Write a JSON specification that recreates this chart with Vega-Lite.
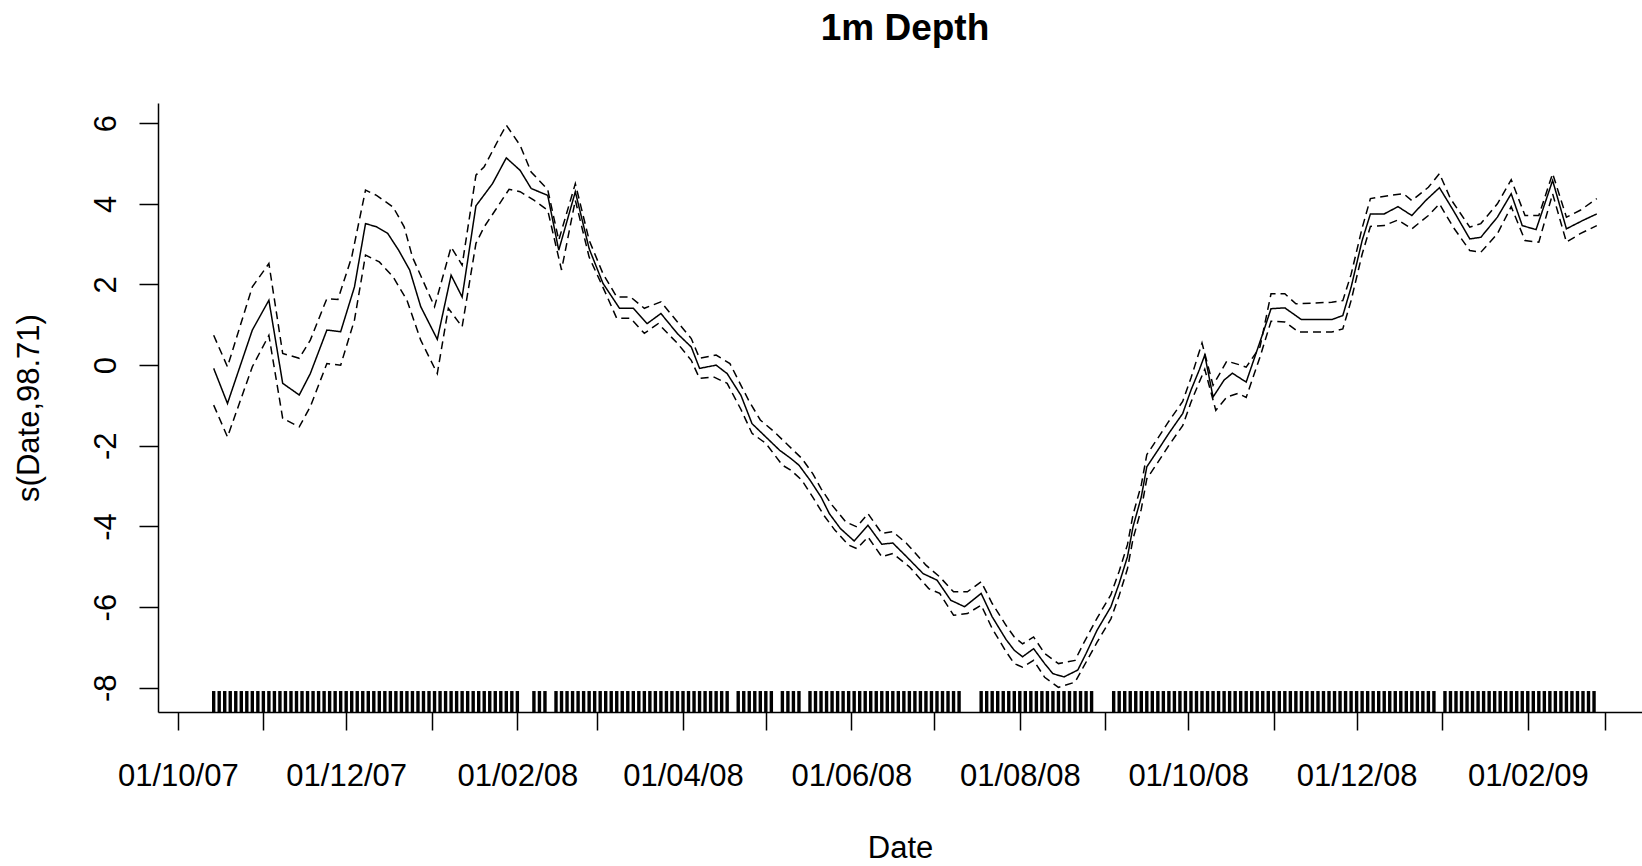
{
  "$schema": "https://vega.github.io/schema/vega-lite/v6.json",
  "autosize": "none",
  "padding": {"left": 158, "top": 103, "right": 0, "bottom": 154},
  "width": 1484,
  "height": 609,
  "background": "white",
  "view": {"stroke": null},
  "config": {"font": "Liberation Sans"},
  "title": {"text": "1m Depth", "fontSize": 37, "font": "Liberation Sans", "fontWeight": "bold", "color": "black", "anchor": "middle", "baseline": "alphabetic", "offset": 26, "dx": 5},
  "datasets": {
    "curve": [
      {"d": "2007-10-14", "v": -0.08, "s": "fit"}, {"d": "2007-10-19", "v": -0.95, "s": "fit"}, {"d": "2007-10-28", "v": 0.87, "s": "fit"}, {"d": "2007-11-03", "v": 1.61, "s": "fit"}, {"d": "2007-11-08", "v": -0.45, "s": "fit"}, {"d": "2007-11-14", "v": -0.74, "s": "fit"}, {"d": "2007-11-18", "v": -0.21, "s": "fit"}, {"d": "2007-11-24", "v": 0.87, "s": "fit"}, {"d": "2007-11-29", "v": 0.83, "s": "fit"}, {"d": "2007-12-04", "v": 1.94, "s": "fit"}, {"d": "2007-12-08", "v": 3.51, "s": "fit"}, {"d": "2007-12-12", "v": 3.43, "s": "fit"}, {"d": "2007-12-16", "v": 3.27, "s": "fit"}, {"d": "2007-12-20", "v": 2.85, "s": "fit"}, {"d": "2007-12-24", "v": 2.36, "s": "fit"}, {"d": "2007-12-28", "v": 1.45, "s": "fit"}, {"d": "2008-01-03", "v": 0.64, "s": "fit"}, {"d": "2008-01-08", "v": 2.23, "s": "fit"}, {"d": "2008-01-12", "v": 1.69, "s": "fit"}, {"d": "2008-01-17", "v": 3.95, "s": "fit"}, {"d": "2008-01-23", "v": 4.5, "s": "fit"}, {"d": "2008-01-28", "v": 5.14, "s": "fit"}, {"d": "2008-02-02", "v": 4.83, "s": "fit"}, {"d": "2008-02-06", "v": 4.38, "s": "fit"}, {"d": "2008-02-12", "v": 4.21, "s": "fit"}, {"d": "2008-02-16", "v": 2.85, "s": "fit"}, {"d": "2008-02-22", "v": 4.3, "s": "fit"}, {"d": "2008-02-27", "v": 2.89, "s": "fit"}, {"d": "2008-03-03", "v": 2.03, "s": "fit"}, {"d": "2008-03-09", "v": 1.41, "s": "fit"}, {"d": "2008-03-14", "v": 1.41, "s": "fit"}, {"d": "2008-03-19", "v": 1.03, "s": "fit"}, {"d": "2008-03-24", "v": 1.28, "s": "fit"}, {"d": "2008-03-30", "v": 0.78, "s": "fit"}, {"d": "2008-04-04", "v": 0.45, "s": "fit"}, {"d": "2008-04-07", "v": -0.08, "s": "fit"}, {"d": "2008-04-13", "v": 0.0, "s": "fit"}, {"d": "2008-04-17", "v": -0.21, "s": "fit"}, {"d": "2008-04-22", "v": -0.75, "s": "fit"}, {"d": "2008-04-26", "v": -1.45, "s": "fit"}, {"d": "2008-05-01", "v": -1.78, "s": "fit"}, {"d": "2008-05-06", "v": -2.11, "s": "fit"}, {"d": "2008-05-10", "v": -2.31, "s": "fit"}, {"d": "2008-05-13", "v": -2.48, "s": "fit"}, {"d": "2008-05-17", "v": -2.85, "s": "fit"}, {"d": "2008-05-21", "v": -3.27, "s": "fit"}, {"d": "2008-05-24", "v": -3.68, "s": "fit"}, {"d": "2008-05-28", "v": -4.05, "s": "fit"}, {"d": "2008-06-02", "v": -4.36, "s": "fit"}, {"d": "2008-06-07", "v": -3.97, "s": "fit"}, {"d": "2008-06-12", "v": -4.44, "s": "fit"}, {"d": "2008-06-16", "v": -4.41, "s": "fit"}, {"d": "2008-06-21", "v": -4.75, "s": "fit"}, {"d": "2008-06-27", "v": -5.17, "s": "fit"}, {"d": "2008-07-02", "v": -5.33, "s": "fit"}, {"d": "2008-07-07", "v": -5.83, "s": "fit"}, {"d": "2008-07-12", "v": -5.99, "s": "fit"}, {"d": "2008-07-18", "v": -5.66, "s": "fit"}, {"d": "2008-07-22", "v": -6.24, "s": "fit"}, {"d": "2008-07-27", "v": -6.8, "s": "fit"}, {"d": "2008-07-30", "v": -7.07, "s": "fit"}, {"d": "2008-08-02", "v": -7.23, "s": "fit"}, {"d": "2008-08-06", "v": -7.03, "s": "fit"}, {"d": "2008-08-10", "v": -7.4, "s": "fit"}, {"d": "2008-08-13", "v": -7.65, "s": "fit"}, {"d": "2008-08-17", "v": -7.73, "s": "fit"}, {"d": "2008-08-22", "v": -7.56, "s": "fit"}, {"d": "2008-08-25", "v": -7.15, "s": "fit"}, {"d": "2008-08-29", "v": -6.57, "s": "fit"}, {"d": "2008-09-03", "v": -5.99, "s": "fit"}, {"d": "2008-09-06", "v": -5.41, "s": "fit"}, {"d": "2008-09-09", "v": -4.75, "s": "fit"}, {"d": "2008-09-11", "v": -4.01, "s": "fit"}, {"d": "2008-09-14", "v": -3.27, "s": "fit"}, {"d": "2008-09-16", "v": -2.52, "s": "fit"}, {"d": "2008-09-20", "v": -2.11, "s": "fit"}, {"d": "2008-09-24", "v": -1.69, "s": "fit"}, {"d": "2008-09-29", "v": -1.2, "s": "fit"}, {"d": "2008-10-02", "v": -0.62, "s": "fit"}, {"d": "2008-10-05", "v": -0.12, "s": "fit"}, {"d": "2008-10-07", "v": 0.25, "s": "fit"}, {"d": "2008-10-10", "v": -0.79, "s": "fit"}, {"d": "2008-10-14", "v": -0.37, "s": "fit"}, {"d": "2008-10-17", "v": -0.2, "s": "fit"}, {"d": "2008-10-22", "v": -0.42, "s": "fit"}, {"d": "2008-10-28", "v": 0.78, "s": "fit"}, {"d": "2008-10-31", "v": 1.4, "s": "fit"}, {"d": "2008-11-05", "v": 1.42, "s": "fit"}, {"d": "2008-11-11", "v": 1.13, "s": "fit"}, {"d": "2008-11-22", "v": 1.13, "s": "fit"}, {"d": "2008-11-26", "v": 1.23, "s": "fit"}, {"d": "2008-11-29", "v": 1.93, "s": "fit"}, {"d": "2008-12-03", "v": 3.09, "s": "fit"}, {"d": "2008-12-06", "v": 3.75, "s": "fit"}, {"d": "2008-12-11", "v": 3.75, "s": "fit"}, {"d": "2008-12-16", "v": 3.93, "s": "fit"}, {"d": "2008-12-21", "v": 3.71, "s": "fit"}, {"d": "2008-12-26", "v": 4.08, "s": "fit"}, {"d": "2008-12-31", "v": 4.4, "s": "fit"}, {"d": "2009-01-05", "v": 3.84, "s": "fit"}, {"d": "2009-01-11", "v": 3.13, "s": "fit"}, {"d": "2009-01-15", "v": 3.17, "s": "fit"}, {"d": "2009-01-21", "v": 3.67, "s": "fit"}, {"d": "2009-01-26", "v": 4.25, "s": "fit"}, {"d": "2009-01-30", "v": 3.46, "s": "fit"}, {"d": "2009-02-04", "v": 3.36, "s": "fit"}, {"d": "2009-02-10", "v": 4.58, "s": "fit"}, {"d": "2009-02-15", "v": 3.38, "s": "fit"}, {"d": "2009-02-21", "v": 3.59, "s": "fit"}, {"d": "2009-02-26", "v": 3.75, "s": "fit"},

      {"d": "2007-10-14", "v": 0.74, "s": "upper"}, {"d": "2007-10-19", "v": -0.04, "s": "upper"}, {"d": "2007-10-28", "v": 1.94, "s": "upper"}, {"d": "2007-11-03", "v": 2.52, "s": "upper"}, {"d": "2007-11-08", "v": 0.29, "s": "upper"}, {"d": "2007-11-14", "v": 0.17, "s": "upper"}, {"d": "2007-11-18", "v": 0.62, "s": "upper"}, {"d": "2007-11-24", "v": 1.65, "s": "upper"}, {"d": "2007-11-28", "v": 1.63, "s": "upper"}, {"d": "2007-12-03", "v": 2.68, "s": "upper"}, {"d": "2007-12-08", "v": 4.34, "s": "upper"}, {"d": "2007-12-12", "v": 4.21, "s": "upper"}, {"d": "2007-12-18", "v": 3.92, "s": "upper"}, {"d": "2007-12-22", "v": 3.43, "s": "upper"}, {"d": "2007-12-25", "v": 2.68, "s": "upper"}, {"d": "2008-01-02", "v": 1.45, "s": "upper"}, {"d": "2008-01-08", "v": 2.93, "s": "upper"}, {"d": "2008-01-12", "v": 2.48, "s": "upper"}, {"d": "2008-01-17", "v": 4.71, "s": "upper"}, {"d": "2008-01-20", "v": 4.92, "s": "upper"}, {"d": "2008-01-26", "v": 5.7, "s": "upper"}, {"d": "2008-01-28", "v": 5.95, "s": "upper"}, {"d": "2008-02-02", "v": 5.45, "s": "upper"}, {"d": "2008-02-06", "v": 4.79, "s": "upper"}, {"d": "2008-02-12", "v": 4.35, "s": "upper"}, {"d": "2008-02-16", "v": 3.1, "s": "upper"}, {"d": "2008-02-22", "v": 4.5, "s": "upper"}, {"d": "2008-02-27", "v": 3.1, "s": "upper"}, {"d": "2008-03-03", "v": 2.27, "s": "upper"}, {"d": "2008-03-08", "v": 1.69, "s": "upper"}, {"d": "2008-03-13", "v": 1.69, "s": "upper"}, {"d": "2008-03-18", "v": 1.41, "s": "upper"}, {"d": "2008-03-24", "v": 1.57, "s": "upper"}, {"d": "2008-03-30", "v": 1.07, "s": "upper"}, {"d": "2008-04-04", "v": 0.66, "s": "upper"}, {"d": "2008-04-07", "v": 0.17, "s": "upper"}, {"d": "2008-04-13", "v": 0.25, "s": "upper"}, {"d": "2008-04-18", "v": 0.04, "s": "upper"}, {"d": "2008-04-22", "v": -0.5, "s": "upper"}, {"d": "2008-04-25", "v": -0.9, "s": "upper"}, {"d": "2008-04-29", "v": -1.36, "s": "upper"}, {"d": "2008-05-04", "v": -1.65, "s": "upper"}, {"d": "2008-05-09", "v": -1.98, "s": "upper"}, {"d": "2008-05-14", "v": -2.31, "s": "upper"}, {"d": "2008-05-18", "v": -2.69, "s": "upper"}, {"d": "2008-05-21", "v": -3.06, "s": "upper"}, {"d": "2008-05-25", "v": -3.47, "s": "upper"}, {"d": "2008-05-30", "v": -3.89, "s": "upper"}, {"d": "2008-06-03", "v": -4.01, "s": "upper"}, {"d": "2008-06-07", "v": -3.68, "s": "upper"}, {"d": "2008-06-12", "v": -4.17, "s": "upper"}, {"d": "2008-06-16", "v": -4.13, "s": "upper"}, {"d": "2008-06-21", "v": -4.42, "s": "upper"}, {"d": "2008-06-28", "v": -4.96, "s": "upper"}, {"d": "2008-07-03", "v": -5.25, "s": "upper"}, {"d": "2008-07-08", "v": -5.62, "s": "upper"}, {"d": "2008-07-13", "v": -5.62, "s": "upper"}, {"d": "2008-07-18", "v": -5.37, "s": "upper"}, {"d": "2008-07-22", "v": -5.91, "s": "upper"}, {"d": "2008-07-27", "v": -6.45, "s": "upper"}, {"d": "2008-07-30", "v": -6.74, "s": "upper"}, {"d": "2008-08-02", "v": -6.91, "s": "upper"}, {"d": "2008-08-06", "v": -6.74, "s": "upper"}, {"d": "2008-08-10", "v": -7.15, "s": "upper"}, {"d": "2008-08-15", "v": -7.4, "s": "upper"}, {"d": "2008-08-21", "v": -7.32, "s": "upper"}, {"d": "2008-08-24", "v": -6.91, "s": "upper"}, {"d": "2008-08-29", "v": -6.27, "s": "upper"}, {"d": "2008-09-03", "v": -5.69, "s": "upper"}, {"d": "2008-09-06", "v": -5.11, "s": "upper"}, {"d": "2008-09-09", "v": -4.45, "s": "upper"}, {"d": "2008-09-11", "v": -3.71, "s": "upper"}, {"d": "2008-09-14", "v": -2.97, "s": "upper"}, {"d": "2008-09-16", "v": -2.22, "s": "upper"}, {"d": "2008-09-20", "v": -1.81, "s": "upper"}, {"d": "2008-09-24", "v": -1.39, "s": "upper"}, {"d": "2008-09-29", "v": -0.9, "s": "upper"}, {"d": "2008-10-02", "v": -0.32, "s": "upper"}, {"d": "2008-10-06", "v": 0.55, "s": "upper"}, {"d": "2008-10-10", "v": -0.5, "s": "upper"}, {"d": "2008-10-15", "v": 0.1, "s": "upper"}, {"d": "2008-10-20", "v": 0.0, "s": "upper"}, {"d": "2008-10-22", "v": -0.05, "s": "upper"}, {"d": "2008-10-27", "v": 0.45, "s": "upper"}, {"d": "2008-10-31", "v": 1.77, "s": "upper"}, {"d": "2008-11-05", "v": 1.77, "s": "upper"}, {"d": "2008-11-09", "v": 1.52, "s": "upper"}, {"d": "2008-11-22", "v": 1.56, "s": "upper"}, {"d": "2008-11-26", "v": 1.6, "s": "upper"}, {"d": "2008-11-29", "v": 2.25, "s": "upper"}, {"d": "2008-12-03", "v": 3.4, "s": "upper"}, {"d": "2008-12-06", "v": 4.13, "s": "upper"}, {"d": "2008-12-13", "v": 4.21, "s": "upper"}, {"d": "2008-12-18", "v": 4.25, "s": "upper"}, {"d": "2008-12-21", "v": 4.08, "s": "upper"}, {"d": "2008-12-27", "v": 4.41, "s": "upper"}, {"d": "2008-12-31", "v": 4.75, "s": "upper"}, {"d": "2009-01-04", "v": 4.13, "s": "upper"}, {"d": "2009-01-11", "v": 3.42, "s": "upper"}, {"d": "2009-01-15", "v": 3.51, "s": "upper"}, {"d": "2009-01-21", "v": 4.0, "s": "upper"}, {"d": "2009-01-26", "v": 4.6, "s": "upper"}, {"d": "2009-01-31", "v": 3.71, "s": "upper"}, {"d": "2009-02-05", "v": 3.71, "s": "upper"}, {"d": "2009-02-10", "v": 4.75, "s": "upper"}, {"d": "2009-02-15", "v": 3.67, "s": "upper"}, {"d": "2009-02-20", "v": 3.84, "s": "upper"}, {"d": "2009-02-26", "v": 4.13, "s": "upper"},

      {"d": "2007-10-14", "v": -0.99, "s": "lower"}, {"d": "2007-10-19", "v": -1.78, "s": "lower"}, {"d": "2007-10-28", "v": -0.04, "s": "lower"}, {"d": "2007-11-03", "v": 0.74, "s": "lower"}, {"d": "2007-11-08", "v": -1.32, "s": "lower"}, {"d": "2007-11-14", "v": -1.53, "s": "lower"}, {"d": "2007-11-18", "v": -1.03, "s": "lower"}, {"d": "2007-11-24", "v": 0.04, "s": "lower"}, {"d": "2007-11-29", "v": 0.0, "s": "lower"}, {"d": "2007-12-04", "v": 1.12, "s": "lower"}, {"d": "2007-12-08", "v": 2.73, "s": "lower"}, {"d": "2007-12-13", "v": 2.56, "s": "lower"}, {"d": "2007-12-18", "v": 2.19, "s": "lower"}, {"d": "2007-12-23", "v": 1.61, "s": "lower"}, {"d": "2007-12-28", "v": 0.62, "s": "lower"}, {"d": "2008-01-03", "v": -0.21, "s": "lower"}, {"d": "2008-01-07", "v": 1.41, "s": "lower"}, {"d": "2008-01-12", "v": 0.95, "s": "lower"}, {"d": "2008-01-17", "v": 3.02, "s": "lower"}, {"d": "2008-01-20", "v": 3.43, "s": "lower"}, {"d": "2008-01-24", "v": 3.84, "s": "lower"}, {"d": "2008-01-29", "v": 4.36, "s": "lower"}, {"d": "2008-02-02", "v": 4.3, "s": "lower"}, {"d": "2008-02-07", "v": 4.09, "s": "lower"}, {"d": "2008-02-12", "v": 3.84, "s": "lower"}, {"d": "2008-02-17", "v": 2.36, "s": "lower"}, {"d": "2008-02-22", "v": 4.09, "s": "lower"}, {"d": "2008-02-27", "v": 2.68, "s": "lower"}, {"d": "2008-03-04", "v": 1.78, "s": "lower"}, {"d": "2008-03-08", "v": 1.16, "s": "lower"}, {"d": "2008-03-13", "v": 1.16, "s": "lower"}, {"d": "2008-03-18", "v": 0.79, "s": "lower"}, {"d": "2008-03-23", "v": 1.03, "s": "lower"}, {"d": "2008-03-30", "v": 0.54, "s": "lower"}, {"d": "2008-04-04", "v": 0.12, "s": "lower"}, {"d": "2008-04-07", "v": -0.33, "s": "lower"}, {"d": "2008-04-12", "v": -0.29, "s": "lower"}, {"d": "2008-04-17", "v": -0.45, "s": "lower"}, {"d": "2008-04-22", "v": -1.1, "s": "lower"}, {"d": "2008-04-26", "v": -1.69, "s": "lower"}, {"d": "2008-05-01", "v": -1.94, "s": "lower"}, {"d": "2008-05-07", "v": -2.48, "s": "lower"}, {"d": "2008-05-10", "v": -2.6, "s": "lower"}, {"d": "2008-05-14", "v": -2.85, "s": "lower"}, {"d": "2008-05-18", "v": -3.27, "s": "lower"}, {"d": "2008-05-22", "v": -3.72, "s": "lower"}, {"d": "2008-05-26", "v": -4.09, "s": "lower"}, {"d": "2008-05-31", "v": -4.46, "s": "lower"}, {"d": "2008-06-03", "v": -4.55, "s": "lower"}, {"d": "2008-06-07", "v": -4.26, "s": "lower"}, {"d": "2008-06-12", "v": -4.75, "s": "lower"}, {"d": "2008-06-16", "v": -4.67, "s": "lower"}, {"d": "2008-06-22", "v": -5.0, "s": "lower"}, {"d": "2008-06-29", "v": -5.54, "s": "lower"}, {"d": "2008-07-03", "v": -5.66, "s": "lower"}, {"d": "2008-07-08", "v": -6.2, "s": "lower"}, {"d": "2008-07-13", "v": -6.16, "s": "lower"}, {"d": "2008-07-18", "v": -5.95, "s": "lower"}, {"d": "2008-07-22", "v": -6.53, "s": "lower"}, {"d": "2008-07-27", "v": -7.1, "s": "lower"}, {"d": "2008-07-30", "v": -7.4, "s": "lower"}, {"d": "2008-08-02", "v": -7.49, "s": "lower"}, {"d": "2008-08-06", "v": -7.32, "s": "lower"}, {"d": "2008-08-10", "v": -7.74, "s": "lower"}, {"d": "2008-08-15", "v": -7.99, "s": "lower"}, {"d": "2008-08-21", "v": -7.86, "s": "lower"}, {"d": "2008-08-24", "v": -7.49, "s": "lower"}, {"d": "2008-08-29", "v": -6.87, "s": "lower"}, {"d": "2008-09-03", "v": -6.29, "s": "lower"}, {"d": "2008-09-06", "v": -5.71, "s": "lower"}, {"d": "2008-09-09", "v": -5.05, "s": "lower"}, {"d": "2008-09-11", "v": -4.31, "s": "lower"}, {"d": "2008-09-14", "v": -3.57, "s": "lower"}, {"d": "2008-09-16", "v": -2.82, "s": "lower"}, {"d": "2008-09-20", "v": -2.41, "s": "lower"}, {"d": "2008-09-24", "v": -1.99, "s": "lower"}, {"d": "2008-09-29", "v": -1.5, "s": "lower"}, {"d": "2008-10-02", "v": -0.92, "s": "lower"}, {"d": "2008-10-05", "v": -0.42, "s": "lower"}, {"d": "2008-10-07", "v": -0.1, "s": "lower"}, {"d": "2008-10-11", "v": -1.12, "s": "lower"}, {"d": "2008-10-15", "v": -0.79, "s": "lower"}, {"d": "2008-10-19", "v": -0.7, "s": "lower"}, {"d": "2008-10-22", "v": -0.8, "s": "lower"}, {"d": "2008-10-27", "v": 0.2, "s": "lower"}, {"d": "2008-10-31", "v": 1.09, "s": "lower"}, {"d": "2008-11-05", "v": 1.07, "s": "lower"}, {"d": "2008-11-10", "v": 0.82, "s": "lower"}, {"d": "2008-11-22", "v": 0.82, "s": "lower"}, {"d": "2008-11-26", "v": 0.9, "s": "lower"}, {"d": "2008-11-29", "v": 1.6, "s": "lower"}, {"d": "2008-12-03", "v": 2.75, "s": "lower"}, {"d": "2008-12-06", "v": 3.44, "s": "lower"}, {"d": "2008-12-11", "v": 3.46, "s": "lower"}, {"d": "2008-12-16", "v": 3.6, "s": "lower"}, {"d": "2008-12-21", "v": 3.38, "s": "lower"}, {"d": "2008-12-27", "v": 3.71, "s": "lower"}, {"d": "2008-12-31", "v": 4.0, "s": "lower"}, {"d": "2009-01-05", "v": 3.42, "s": "lower"}, {"d": "2009-01-11", "v": 2.84, "s": "lower"}, {"d": "2009-01-15", "v": 2.8, "s": "lower"}, {"d": "2009-01-21", "v": 3.26, "s": "lower"}, {"d": "2009-01-26", "v": 3.93, "s": "lower"}, {"d": "2009-01-31", "v": 3.09, "s": "lower"}, {"d": "2009-02-05", "v": 3.05, "s": "lower"}, {"d": "2009-02-10", "v": 4.25, "s": "lower"}, {"d": "2009-02-15", "v": 3.05, "s": "lower"}, {"d": "2009-02-20", "v": 3.26, "s": "lower"}, {"d": "2009-02-26", "v": 3.46, "s": "lower"}
    ],
    "rug": [
      {"d": "2007-10-14"}, {"d": "2007-10-16"}, {"d": "2007-10-18"}, {"d": "2007-10-20"}, {"d": "2007-10-22"}, {"d": "2007-10-24"}, {"d": "2007-10-26"}, {"d": "2007-10-28"}, {"d": "2007-10-30"},
      {"d": "2007-11-01"}, {"d": "2007-11-03"}, {"d": "2007-11-05"}, {"d": "2007-11-07"}, {"d": "2007-11-09"}, {"d": "2007-11-11"}, {"d": "2007-11-13"}, {"d": "2007-11-15"}, {"d": "2007-11-17"}, {"d": "2007-11-19"}, {"d": "2007-11-21"}, {"d": "2007-11-23"}, {"d": "2007-11-25"}, {"d": "2007-11-27"}, {"d": "2007-11-29"},
      {"d": "2007-12-01"}, {"d": "2007-12-03"}, {"d": "2007-12-05"}, {"d": "2007-12-07"}, {"d": "2007-12-09"}, {"d": "2007-12-11"}, {"d": "2007-12-13"}, {"d": "2007-12-15"}, {"d": "2007-12-17"}, {"d": "2007-12-19"}, {"d": "2007-12-21"}, {"d": "2007-12-23"}, {"d": "2007-12-25"}, {"d": "2007-12-27"}, {"d": "2007-12-29"}, {"d": "2007-12-31"},
      {"d": "2008-01-02"}, {"d": "2008-01-04"}, {"d": "2008-01-06"}, {"d": "2008-01-08"}, {"d": "2008-01-10"}, {"d": "2008-01-12"}, {"d": "2008-01-14"}, {"d": "2008-01-16"}, {"d": "2008-01-18"}, {"d": "2008-01-20"}, {"d": "2008-01-22"}, {"d": "2008-01-24"}, {"d": "2008-01-26"}, {"d": "2008-01-28"}, {"d": "2008-01-30"},
      {"d": "2008-02-01"}, {"d": "2008-02-07"}, {"d": "2008-02-09"}, {"d": "2008-02-11"}, {"d": "2008-02-15"}, {"d": "2008-02-17"}, {"d": "2008-02-19"}, {"d": "2008-02-21"}, {"d": "2008-02-23"}, {"d": "2008-02-25"}, {"d": "2008-02-27"}, {"d": "2008-02-29"},
      {"d": "2008-03-02"}, {"d": "2008-03-04"}, {"d": "2008-03-06"}, {"d": "2008-03-08"}, {"d": "2008-03-10"}, {"d": "2008-03-12"}, {"d": "2008-03-14"}, {"d": "2008-03-16"}, {"d": "2008-03-18"}, {"d": "2008-03-20"}, {"d": "2008-03-22"}, {"d": "2008-03-24"}, {"d": "2008-03-26"}, {"d": "2008-03-28"}, {"d": "2008-03-30"},
      {"d": "2008-04-01"}, {"d": "2008-04-03"}, {"d": "2008-04-05"}, {"d": "2008-04-07"}, {"d": "2008-04-09"}, {"d": "2008-04-11"}, {"d": "2008-04-13"}, {"d": "2008-04-15"}, {"d": "2008-04-17"}, {"d": "2008-04-21"}, {"d": "2008-04-23"}, {"d": "2008-04-25"}, {"d": "2008-04-27"}, {"d": "2008-04-29"},
      {"d": "2008-05-01"}, {"d": "2008-05-03"}, {"d": "2008-05-07"}, {"d": "2008-05-09"}, {"d": "2008-05-11"}, {"d": "2008-05-13"}, {"d": "2008-05-17"}, {"d": "2008-05-19"}, {"d": "2008-05-21"}, {"d": "2008-05-23"}, {"d": "2008-05-25"}, {"d": "2008-05-27"}, {"d": "2008-05-29"}, {"d": "2008-05-31"},
      {"d": "2008-06-02"}, {"d": "2008-06-04"}, {"d": "2008-06-06"}, {"d": "2008-06-08"}, {"d": "2008-06-10"}, {"d": "2008-06-12"}, {"d": "2008-06-14"}, {"d": "2008-06-16"}, {"d": "2008-06-18"}, {"d": "2008-06-20"}, {"d": "2008-06-22"}, {"d": "2008-06-24"}, {"d": "2008-06-26"}, {"d": "2008-06-28"}, {"d": "2008-06-30"},
      {"d": "2008-07-02"}, {"d": "2008-07-04"}, {"d": "2008-07-06"}, {"d": "2008-07-08"}, {"d": "2008-07-10"}, {"d": "2008-07-18"}, {"d": "2008-07-20"}, {"d": "2008-07-22"}, {"d": "2008-07-24"}, {"d": "2008-07-26"}, {"d": "2008-07-28"}, {"d": "2008-07-30"},
      {"d": "2008-08-01"}, {"d": "2008-08-03"}, {"d": "2008-08-05"}, {"d": "2008-08-07"}, {"d": "2008-08-09"}, {"d": "2008-08-11"}, {"d": "2008-08-13"}, {"d": "2008-08-15"}, {"d": "2008-08-17"}, {"d": "2008-08-19"}, {"d": "2008-08-21"}, {"d": "2008-08-23"}, {"d": "2008-08-25"}, {"d": "2008-08-27"},
      {"d": "2008-09-04"}, {"d": "2008-09-06"}, {"d": "2008-09-08"}, {"d": "2008-09-10"}, {"d": "2008-09-12"}, {"d": "2008-09-14"}, {"d": "2008-09-16"}, {"d": "2008-09-18"}, {"d": "2008-09-20"}, {"d": "2008-09-22"}, {"d": "2008-09-24"}, {"d": "2008-09-26"}, {"d": "2008-09-28"}, {"d": "2008-09-30"},
      {"d": "2008-10-02"}, {"d": "2008-10-04"}, {"d": "2008-10-06"}, {"d": "2008-10-08"}, {"d": "2008-10-10"}, {"d": "2008-10-12"}, {"d": "2008-10-14"}, {"d": "2008-10-16"}, {"d": "2008-10-18"}, {"d": "2008-10-20"}, {"d": "2008-10-22"}, {"d": "2008-10-24"}, {"d": "2008-10-26"}, {"d": "2008-10-28"}, {"d": "2008-10-30"},
      {"d": "2008-11-01"}, {"d": "2008-11-03"}, {"d": "2008-11-05"}, {"d": "2008-11-07"}, {"d": "2008-11-09"}, {"d": "2008-11-11"}, {"d": "2008-11-13"}, {"d": "2008-11-15"}, {"d": "2008-11-17"}, {"d": "2008-11-19"}, {"d": "2008-11-21"}, {"d": "2008-11-23"}, {"d": "2008-11-25"}, {"d": "2008-11-27"}, {"d": "2008-11-29"},
      {"d": "2008-12-01"}, {"d": "2008-12-03"}, {"d": "2008-12-05"}, {"d": "2008-12-07"}, {"d": "2008-12-09"}, {"d": "2008-12-11"}, {"d": "2008-12-13"}, {"d": "2008-12-15"}, {"d": "2008-12-17"}, {"d": "2008-12-19"}, {"d": "2008-12-21"}, {"d": "2008-12-23"}, {"d": "2008-12-25"}, {"d": "2008-12-27"}, {"d": "2008-12-29"},
      {"d": "2009-01-02"}, {"d": "2009-01-04"}, {"d": "2009-01-06"}, {"d": "2009-01-08"}, {"d": "2009-01-10"}, {"d": "2009-01-12"}, {"d": "2009-01-14"}, {"d": "2009-01-16"}, {"d": "2009-01-18"}, {"d": "2009-01-20"}, {"d": "2009-01-22"}, {"d": "2009-01-24"}, {"d": "2009-01-26"}, {"d": "2009-01-28"}, {"d": "2009-01-30"},
      {"d": "2009-02-01"}, {"d": "2009-02-03"}, {"d": "2009-02-05"}, {"d": "2009-02-07"}, {"d": "2009-02-09"}, {"d": "2009-02-11"}, {"d": "2009-02-13"}, {"d": "2009-02-15"}, {"d": "2009-02-17"}, {"d": "2009-02-19"}, {"d": "2009-02-21"}, {"d": "2009-02-23"}, {"d": "2009-02-25"}
    ]
  },
  "layer": [
    {
      "data": {"name": "curve"},
      "mark": {"type": "line", "color": "black", "strokeWidth": 1.5, "clip": true},
      "encoding": {
        "x": {
          "field": "d", "type": "temporal",
          "scale": {"type": "utc", "domain": [{"year": 2007, "month": "sep", "date": 23, "hours": 20, "utc": true}, {"year": 2009, "month": "mar", "date": 14, "hours": 9, "utc": true}]},
          "axis": {
            "values": [
              {"year": 2007, "month": "oct", "date": 1, "utc": true}, {"year": 2007, "month": "nov", "date": 1, "utc": true}, {"year": 2007, "month": "dec", "date": 1, "utc": true},
              {"year": 2008, "month": "jan", "date": 1, "utc": true}, {"year": 2008, "month": "feb", "date": 1, "utc": true}, {"year": 2008, "month": "mar", "date": 1, "utc": true},
              {"year": 2008, "month": "apr", "date": 1, "utc": true}, {"year": 2008, "month": "may", "date": 1, "utc": true}, {"year": 2008, "month": "jun", "date": 1, "utc": true},
              {"year": 2008, "month": "jul", "date": 1, "utc": true}, {"year": 2008, "month": "aug", "date": 1, "utc": true}, {"year": 2008, "month": "sep", "date": 1, "utc": true},
              {"year": 2008, "month": "oct", "date": 1, "utc": true}, {"year": 2008, "month": "nov", "date": 1, "utc": true}, {"year": 2008, "month": "dec", "date": 1, "utc": true},
              {"year": 2009, "month": "jan", "date": 1, "utc": true}, {"year": 2009, "month": "feb", "date": 1, "utc": true}, {"year": 2009, "month": "mar", "date": 1, "utc": true}
            ],
            "labelExpr": "utcmonth(datum.value) % 2 == 1 ? utcFormat(datum.value, '%d/%m/%y') : ''",
            "labelOverlap": false, "labelFlush": false,
            "labelFont": "Liberation Sans", "labelFontSize": 31, "labelColor": "black", "labelPadding": 31,
            "grid": false, "domainColor": "black", "domainWidth": 1.5, "tickColor": "black", "tickWidth": 1.5, "tickSize": 18,
            "title": "Date", "titleFont": "Liberation Sans", "titleFontSize": 31, "titleFontWeight": "normal", "titleColor": "black",
            "titleBaseline": "middle", "titleY": 136
          }
        },
        "y": {
          "field": "v", "type": "quantitative",
          "scale": {"domain": [-8.6, 6.5], "nice": false, "zero": false},
          "axis": {
            "values": [-8, -6, -4, -2, 0, 2, 4, 6],
            "labelExpr": "'' + datum.value",
            "labelAngle": -90, "labelAlign": "center", "labelBaseline": "bottom",
            "labelFont": "Liberation Sans", "labelFontSize": 31, "labelColor": "black", "labelPadding": 17,
            "grid": false, "domainColor": "black", "domainWidth": 1.5, "tickColor": "black", "tickWidth": 1.5, "tickSize": 19,
            "title": "s(Date,98.71)", "titleFont": "Liberation Sans", "titleFontSize": 31, "titleFontWeight": "normal", "titleColor": "black",
            "titleAngle": -90, "titleAlign": "center", "titleBaseline": "middle", "titleX": -129, "titleY": 304.5
          }
        },
        "detail": {"field": "s"},
        "strokeDash": {"field": "s", "type": "nominal", "scale": {"domain": ["fit", "upper", "lower"], "range": [[1, 0], [8, 5], [8, 5]]}, "legend": null}
      }
    },
    {
      "data": {"name": "rug"},
      "mark": {"type": "rule", "color": "black", "strokeWidth": 3.4},
      "encoding": {
        "x": {"field": "d", "type": "temporal"},
        "y": {"datum": -8.6},
        "y2": {"datum": -8.08}
      }
    },
    {
      "mark": {"type": "rule", "color": "black", "strokeWidth": 1.5},
      "encoding": {"y": {"datum": 6.5}}
    }
  ]
}
